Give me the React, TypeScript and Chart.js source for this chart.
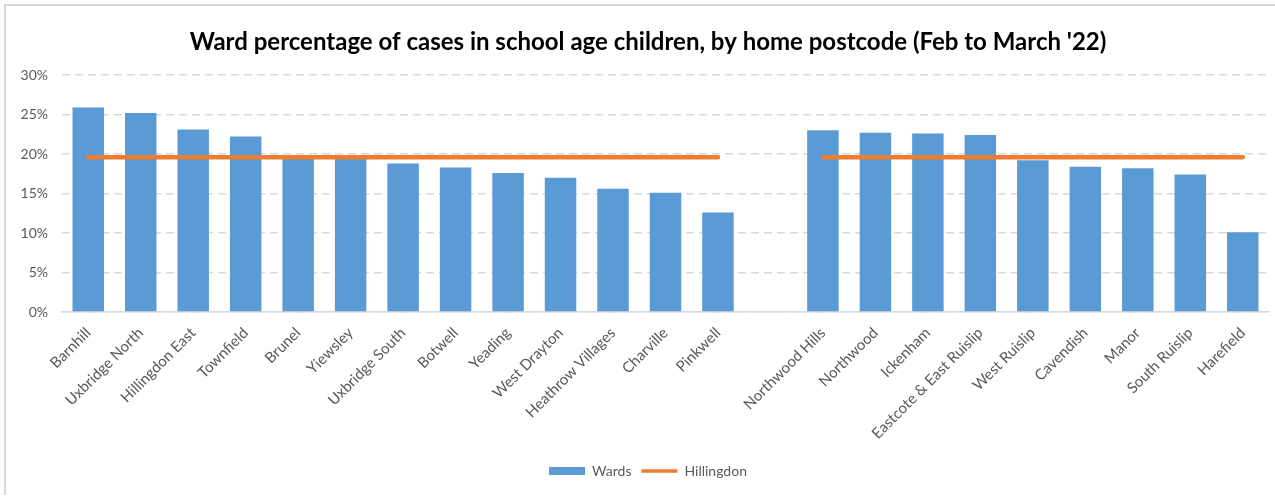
import React, { useEffect, useRef } from 'react';
import { Chart, registerables } from 'chart.js';

Chart.register(...registerables);

const categories = [
  'Barnhill', 'Uxbridge North', 'Hillingdon East', 'Townfield', 'Brunel', 'Yiewsley',
  'Uxbridge South', 'Botwell', 'Yeading', 'West Drayton', 'Heathrow Villages', 'Charville',
  'Pinkwell', '', 'Northwood Hills', 'Northwood', 'Ickenham', 'Eastcote & East Ruislip',
  'West Ruislip', 'Cavendish', 'Manor', 'South Ruislip', 'Harefield',
];

const wardValues = [
  25.9, 25.2, 23.1, 22.2, 19.7, 19.6, 18.8, 18.3, 17.6, 17.0, 15.6, 15.1, 12.6,
  null,
  23.0, 22.7, 22.6, 22.4, 19.2, 18.4, 18.2, 17.4, 10.1,
];

const hillingdonValues = [
  19.6, 19.6, 19.6, 19.6, 19.6, 19.6, 19.6, 19.6, 19.6, 19.6, 19.6, 19.6, 19.6,
  null,
  19.6, 19.6, 19.6, 19.6, 19.6, 19.6, 19.6, 19.6, 19.6,
];

const yTicks = [0, 5, 10, 15, 20, 25, 30];

const titleText = "Ward percentage of cases in school age children, by home postcode (Feb to March '22)";

const BLUE = '#5B9BD5';
const ORANGE = '#ED7D31';
const FONT = 'Lato, "Open Sans", sans-serif';

const unclipYLabels = {
  id: 'unclipYLabels',
  afterLayout(chart: any) {
    if (chart.scales.y) chart.scales.y.left = 0;
  },
};

export default function App() {
  const ref = useRef<HTMLCanvasElement>(null);

  useEffect(() => {
    const chart = new Chart(ref.current!, {
      type: 'bar',
      data: {
        labels: categories,
        datasets: [
          {
            type: 'bar',
            label: 'Wards',
            data: wardValues,
            backgroundColor: BLUE,
            borderWidth: 0,
            barPercentage: 0.6,
            categoryPercentage: 1,
            order: 1,
          } as any,
          {
            type: 'line',
            label: 'Hillingdon',
            data: hillingdonValues,
            borderColor: ORANGE,
            backgroundColor: ORANGE,
            borderWidth: 4.5,
            borderCapStyle: 'round',
            pointRadius: 0,
            tension: 0,
            spanGaps: false,
            order: 0,
          } as any,
        ],
      },
      options: {
        animation: false,
        responsive: false,
        maintainAspectRatio: false,
        layout: { padding: { top: 6, left: 27, right: 6, bottom: 8 } },
        plugins: {
          tooltip: { enabled: false },
          title: {
            display: true,
            text: titleText,
            color: '#000000',
            font: { family: FONT, size: 24, weight: 'bold' },
            padding: { top: 21.6, bottom: 18.6 },
          },
          legend: {
            display: true,
            position: 'bottom',
            labels: {
              color: '#595959',
              font: { family: FONT, size: 14 },
              usePointStyle: true,
              pointStyleWidth: 36,
              boxHeight: 8,
              padding: 10,
              generateLabels: () => [
                { text: 'Wards', fillStyle: BLUE, strokeStyle: BLUE, lineWidth: 0, pointStyle: 'rect', datasetIndex: 0, hidden: false, fontColor: '#595959' } as any,
                { text: 'Hillingdon', fillStyle: ORANGE, strokeStyle: ORANGE, lineWidth: 3.5, pointStyle: 'line', datasetIndex: 1, hidden: false, fontColor: '#595959' } as any,
              ],
            },
          },
        },
        scales: {
          x: {
            grid: { display: false, drawTicks: false },
            border: { display: true, color: '#d9d9d9', width: 1.5 },
            ticks: {
              autoSkip: false,
              maxRotation: 45,
              minRotation: 45,
              color: '#595959',
              font: { family: FONT, size: 15 },
              padding: 12,
            },
            afterFit: (s: any) => { s.height = 142; },
          },
          y: {
            min: 0,
            max: 30,
            afterBuildTicks: (s: any) => { s.ticks = yTicks.map((v) => ({ value: v })); },
            grid: { color: '#d9d9d9', lineWidth: 1.5, drawTicks: false },
            border: { display: false, dash: [8, 5] },
            ticks: {
              color: '#595959',
              font: { family: FONT, size: 14 },
              padding: 14,
              callback: (v: any) => v + '%',
            },
            afterFit: (s: any) => { s.width = 35; },
          },
        },
      },
      plugins: [unclipYLabels],
    });
    return () => chart.destroy();
  }, []);

  return (
    <div style={{ position: 'absolute', left: 0, top: 0, width: 1275, height: 496, background: '#fff' }}>
      <div
        style={{
          position: 'absolute', left: 4, top: 4, width: 1271, height: 491,
          borderTop: '2px solid #d9d9d9', borderLeft: '2px solid #d9d9d9', boxSizing: 'border-box',
        }}
      />
      <canvas ref={ref} width={1275} height={496} style={{ position: 'absolute', left: 0, top: 0 }} />
    </div>
  );
}
